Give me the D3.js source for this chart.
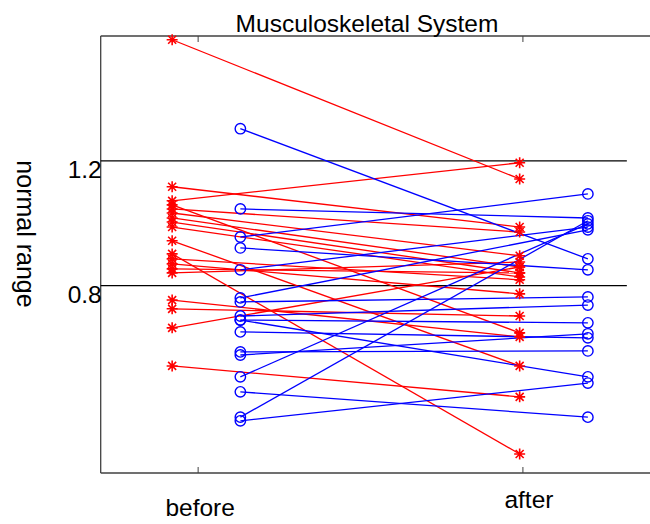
<!DOCTYPE html>
<html>
<head>
<meta charset="utf-8">
<script src="https://cdn.jsdelivr.net/npm/d3@7"></script>
<style>
  html, body { margin: 0; padding: 0; background: #fff; }
  svg { display: block; }
  text { font-family: "Liberation Sans", Arial, sans-serif; fill: #000; }
</style>
</head>
<body>
<svg id="chart" width="650" height="524"></svg>
<script>
// Paired measurements, before and after
const groups = ["before", "after"];
const redBefore = [1.588, 1.117, 1.072, 1.059, 1.046, 1.033, 1.017, 1.004, 0.988, 0.944,
                   0.902, 0.886, 0.870, 0.854, 0.841, 0.754, 0.726, 0.665, 0.543];
const redAfter  = [1.142, 0.988, 1.194, 0.649, 0.972, 0.896, 0.860, 0.841, 0.828, 0.543,
                   0.261, 0.819, 0.774, 0.841, 0.876, 0.636, 0.703, 0.860, 0.444];
const blueBefore = [1.303, 1.046, 0.956, 0.921, 0.851, 0.761, 0.748, 0.703, 0.690, 0.652,
                    0.588, 0.578, 0.508, 0.460, 0.379, 0.367, 0.690];
const blueAfter  = [0.886, 1.017, 1.094, 0.851, 0.988, 0.979, 0.764, 0.738, 0.681, 0.633,
                    0.591, 0.646, 0.998, 0.379, 1.008, 0.488, 0.508];
const refLines = [1.2, 0.8];
const yTickLabels = ["1.2", "0.8"];

// x positions of each series at the two time points
const redX = [0.92, 1.99];
const blueX = [1.13, 2.2];

const svg = d3.select("#chart");
const x = d3.scaleLinear().domain([0.7, 2.5]).range([100.7, 685.3]);
const y = d3.scaleLinear().domain([0.2, 1.6]).range([473, 36]);

const axisColor = "#404040";
const plot = svg.append("g");

// axes box (left, top, bottom)
plot.append("line").attr("x1", x(0.7)).attr("x2", x(0.7)).attr("y1", y(0.2)).attr("y2", y(1.6))
  .attr("stroke", axisColor).attr("stroke-width", 1.3);
plot.append("line").attr("x1", x(0.7)).attr("x2", x(2.5)).attr("y1", y(1.6)).attr("y2", y(1.6))
  .attr("stroke", axisColor).attr("stroke-width", 1.3);
plot.append("line").attr("x1", x(0.7)).attr("x2", x(2.5)).attr("y1", y(0.2)).attr("y2", y(0.2))
  .attr("stroke", axisColor).attr("stroke-width", 1.3);

// x ticks, top and bottom, pointing inward
[1, 2].forEach(v => {
  plot.append("line").attr("x1", x(v)).attr("x2", x(v)).attr("y1", y(0.2)).attr("y2", y(0.2) - 6)
    .attr("stroke", axisColor);
  plot.append("line").attr("x1", x(v)).attr("x2", x(v)).attr("y1", y(1.6)).attr("y2", y(1.6) + 6)
    .attr("stroke", axisColor);
});

// reference band lines
plot.selectAll(".ref").data(refLines).enter().append("line")
  .attr("x1", x(0.7)).attr("x2", x(2.32))
  .attr("y1", d => y(d)).attr("y2", d => y(d))
  .attr("stroke", "#000").attr("stroke-width", 1.2);

// y tick labels
plot.selectAll(".ytl").data(refLines).enter().append("text")
  .attr("x", x(0.7) + 1).attr("y", d => y(d) + 17)
  .attr("text-anchor", "end").attr("font-size", 24.5)
  .text((d, i) => yTickLabels[i]);

// paired lines
const redPairs = redBefore.map((v, i) => [v, redAfter[i]]);
const bluePairs = blueBefore.map((v, i) => [v, blueAfter[i]]);

const line = xs => d3.line().x((d, i) => x(xs[i])).y(d => y(d));

plot.selectAll(".redline").data(redPairs).enter().append("path")
  .attr("d", line(redX)).attr("fill", "none").attr("stroke", "#ff0000").attr("stroke-width", 1.3);
plot.selectAll(".blueline").data(bluePairs).enter().append("path")
  .attr("d", line(blueX)).attr("fill", "none").attr("stroke", "#0000ff").attr("stroke-width", 1.3);

// asterisk markers
const star = "M-5.5,0H5.5M0,-5.5V5.5M-4,-4L4,4M-4,4L4,-4";
redPairs.forEach(p => {
  p.forEach((v, i) => {
    plot.append("path").attr("d", star)
      .attr("transform", `translate(${x(redX[i])},${y(v)})`)
      .attr("stroke", "#ff0000").attr("stroke-width", 1.6).attr("fill", "none");
  });
});
// circle markers
bluePairs.forEach(p => {
  p.forEach((v, i) => {
    plot.append("circle").attr("cx", x(blueX[i])).attr("cy", y(v)).attr("r", 5.2)
      .attr("stroke", "#0000ff").attr("stroke-width", 1.4).attr("fill", "none");
  });
});

// titles and labels
svg.append("text").attr("x", 367).attr("y", 31.5).attr("text-anchor", "middle")
  .attr("font-size", 24.5).text("Musculoskeletal System");
svg.append("text").attr("x", x(1) + 2).attr("y", 516).attr("text-anchor", "middle")
  .attr("font-size", 24.5).text(groups[0]);
svg.append("text").attr("x", x(2) + 6).attr("y", 508).attr("text-anchor", "middle")
  .attr("font-size", 24.5).text(groups[1]);
svg.append("text").attr("transform", "translate(17,234) rotate(90)").attr("text-anchor", "middle")
  .attr("font-size", 25).text("normal range");
</script>
</body>
</html>
